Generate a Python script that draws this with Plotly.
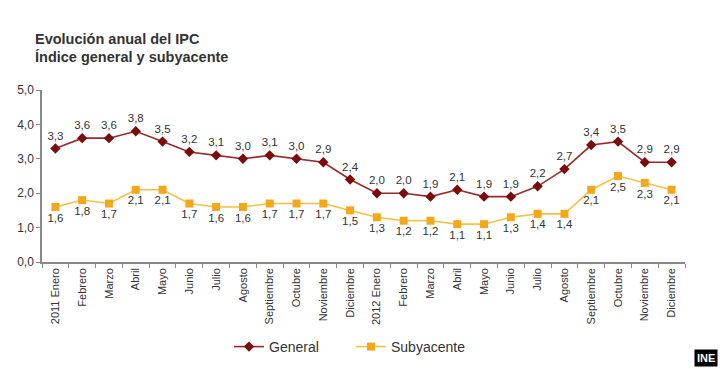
import plotly.graph_objects as go

months = ["Enero", "Febrero", "Marzo", "Abril", "Mayo", "Junio", "Julio", "Agosto",
          "Septiembre", "Octubre", "Noviembre", "Diciembre"]
tick_labels = ["2011 Enero"] + months[1:] + ["2012 Enero"] + months[1:]
x_pos = list(range(len(tick_labels)))

general = [3.3, 3.6, 3.6, 3.8, 3.5, 3.2, 3.1, 3.0, 3.1, 3.0, 2.9, 2.4,
           2.0, 2.0, 1.9, 2.1, 1.9, 1.9, 2.2, 2.7, 3.4, 3.5, 2.9, 2.9]
subyacente = [1.6, 1.8, 1.7, 2.1, 2.1, 1.7, 1.6, 1.6, 1.7, 1.7, 1.7, 1.5,
              1.3, 1.2, 1.2, 1.1, 1.1, 1.3, 1.4, 1.4, 2.1, 2.5, 2.3, 2.1]

title_lines = ["Evolución anual del IPC", "Índice general y subyacente"]

def fmt(v):
    return f"{v:.1f}".replace(".", ",")

FONT = "Liberation Sans, Arial, sans-serif"

fig = go.Figure()
fig.add_trace(go.Scatter(
    x=x_pos, y=general, name="General", mode="lines+markers+text",
    line=dict(color="#9a2a2a", width=1.6),
    marker=dict(symbol="diamond", size=8, color="#7a0c0c"),
    text=[fmt(v) for v in general], textposition="top center",
    textfont=dict(size=11.5, color="#333333", family=FONT),
    cliponaxis=False,
))
fig.add_trace(go.Scatter(
    x=x_pos, y=subyacente, name="Subyacente", mode="lines+markers+text",
    line=dict(color="#f6c040", width=1.6),
    marker=dict(symbol="square", size=8, color="#f5a71c"),
    text=[fmt(v) for v in subyacente], textposition="bottom center",
    textfont=dict(size=11.5, color="#333333", family=FONT),
    cliponaxis=False,
))

PLOT_L, PLOT_R, PLOT_T, PLOT_B = 42, 685, 90, 262
pw, ph = PLOT_R - PLOT_L, PLOT_B - PLOT_T

def px(xp):
    return (xp - PLOT_L) / pw

def py(yp):
    return (PLOT_B - yp) / ph

for line, ypix in zip(title_lines, [39, 57]):
    fig.add_annotation(
        x=px(33), y=py(ypix), xref="paper", yref="paper", xanchor="left", yanchor="middle",
        align="left", showarrow=False, text=f"<b>{line}</b>",
        font=dict(size=14.5, color="#333333", family=FONT),
    )
fig.add_annotation(
    x=px(718), y=py(367), xref="paper", yref="paper", xanchor="right", yanchor="bottom",
    showarrow=False, text="<b>INE</b>", bgcolor="#000000", borderpad=2,
    font=dict(size=11, color="#ffffff", family=FONT),
)

fig.update_layout(
    template="none",
    width=720, height=369,
    margin=dict(l=PLOT_L, r=720 - PLOT_R, t=PLOT_T, b=369 - PLOT_B, autoexpand=False),
    paper_bgcolor="white", plot_bgcolor="white",
    separators=",.",
    font=dict(family=FONT, color="#333333"),
    showlegend=True,
    legend=dict(orientation="h", x=px(229), xanchor="left", y=py(347), yanchor="middle",
                entrywidth=77, entrywidthmode="pixels",
                font=dict(size=14, color="#333333", family=FONT), bgcolor="rgba(0,0,0,0)"),
    xaxis=dict(
        range=[-0.5, 23.5], tickmode="array", tickvals=x_pos, ticktext=tick_labels,
        tickangle=-90, ticks="", showgrid=False, zeroline=False, automargin=False,
        showline=True, linecolor="#888888", linewidth=1.5,
        tickfont=dict(size=11, color="#333333"),
        minor=dict(tickmode="linear", tick0=-0.5, dtick=1, ticks="outside",
                   ticklen=4, tickcolor="#888888", showgrid=False),
    ),
    yaxis=dict(
        range=[0, 5], dtick=1, tickformat=".1f", showgrid=False, zeroline=False,
        automargin=False,
        showline=True, linecolor="#888888", linewidth=1.5,
        ticks="outside", ticklen=4, tickcolor="#888888",
        tickfont=dict(size=12, color="#333333"),
    ),
)

fig.write_html(
    "out.html",
    config={"displayModeBar": False},
    post_script="document.body.style.margin='0';document.body.style.overflow='hidden';",
)
